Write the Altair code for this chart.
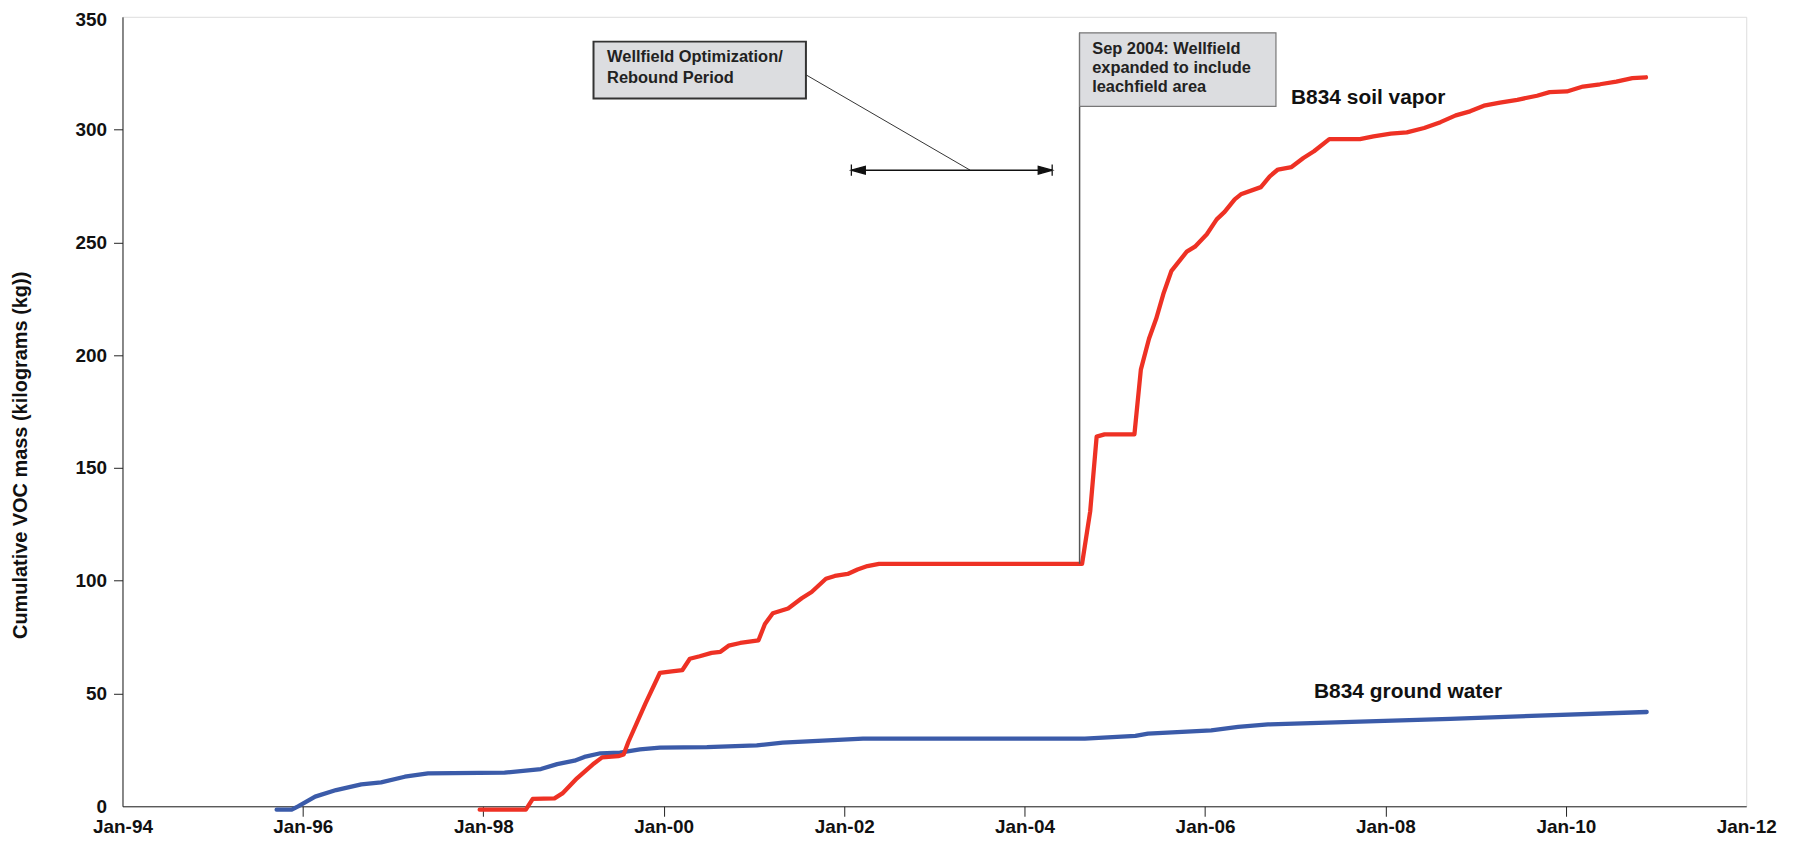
import altair as alt
import pandas as pd

# ---------------- data ----------------
gw_dates = ["1995-09-17", "1995-11-17", "1995-12-13", "1996-02-20", "1996-05-15",
            "1996-08-25", "1996-11-13", "1997-02-17", "1997-05-22", "1998-03-28",
            "1998-08-22", "1998-10-27", "1999-01-05", "1999-02-14", "1999-04-20",
            "1999-07-08", "1999-09-27", "1999-12-17", "2000-06-24", "2001-01-12",
            "2001-04-27", "2002-03-18", "2004-09-01", "2005-03-25", "2005-05-15",
            "2006-01-26", "2006-05-15", "2006-09-13", "2006-12-28", "2008-09-20",
            "2010-11-24"]
gw_values = [-1.5, -1.5, 0.0, 4.3, 7.2,
             9.7, 10.6, 13.1, 14.6, 14.9,
             16.5, 18.7, 20.2, 21.9, 23.5,
             23.8, 25.2, 26.0, 26.2, 27.0,
             28.2, 30.0, 30.0, 31.2, 32.2,
             33.7, 35.2, 36.3, 36.6, 38.8,
             41.8]

sv_dates = ["1997-12-17", "1998-06-22", "1998-07-20", "1998-10-16", "1998-11-17",
            "1999-01-15", "1999-03-25", "1999-04-27", "1999-07-01", "1999-07-23",
            "1999-08-11", "1999-10-19", "1999-12-17", "2000-02-03", "2000-03-17",
            "2000-04-16", "2000-05-26", "2000-07-13", "2000-08-18", "2000-09-20",
            "2000-11-06", "2001-01-19", "2001-02-14", "2001-03-18", "2001-05-19",
            "2001-07-13", "2001-08-22", "2001-10-19", "2001-11-24", "2002-01-15",
            "2002-02-24", "2002-04-05", "2002-05-22", "2004-08-21", "2004-09-23",
            "2004-10-19", "2004-11-20", "2005-03-21", "2005-04-16", "2005-05-19",
            "2005-06-17", "2005-07-16", "2005-08-18", "2005-10-19", "2005-11-21",
            "2006-01-08", "2006-02-17", "2006-03-21", "2006-05-01", "2006-05-26",
            "2006-08-15", "2006-09-20", "2006-10-23", "2006-12-17", "2007-02-03",
            "2007-03-18", "2007-05-19", "2007-09-20", "2007-11-14", "2008-01-23",
            "2008-03-28", "2008-06-06", "2008-08-11", "2008-10-12", "2008-12-09",
            "2009-02-03", "2009-04-09", "2009-06-18", "2009-09-06", "2009-10-27",
            "2010-01-05", "2010-03-11", "2010-05-19", "2010-07-24", "2010-09-27",
            "2010-11-21"]
sv_values = [-1.5, -1.5, 3.3, 3.5, 5.7,
             12.4, 19.0, 21.7, 22.2, 23.0,
             28.5, 45.5, 59.2, 59.8, 60.4,
             65.4, 66.5, 68.0, 68.5, 71.2,
             72.4, 73.6, 80.8, 85.6, 87.7,
             92.2, 95.0, 100.9, 102.1, 103.0,
             105.0, 106.5, 107.5, 107.5, 130.8,
             163.9, 164.9, 164.9, 193.6, 207.3,
             216.1, 227.1, 237.4, 245.9, 248.1,
             253.6, 260.2, 263.5, 269.1, 271.3,
             274.5, 279.3, 282.3, 283.4, 287.4,
             290.4, 295.8, 295.8, 297.0, 298.2,
             298.8, 300.7, 303.3, 306.3, 308.1,
             310.6, 312.0, 313.2, 315.0, 316.6,
             316.9, 319.1, 320.1, 321.3, 322.8,
             323.2]

series_names = ["B834 ground water", "B834 soil vapor"]
series_colors = ["#3b5ba9", "#ee3124"]

tick_years = [1994, 1996, 1998, 2000, 2002, 2004, 2006, 2008, 2010, 2012]
y_ticks = [0, 50, 100, 150, 200, 250, 300, 350]

# annotation content and anchor positions (data coordinates)
box_x = ["1999-03-23", "2004-08-11"]
box_x2 = ["2001-07-30", "2006-10-15"]
box_y = [339.0, 342.9]
box_y2 = [313.8, 310.3]
box_stroke = ["#333333", "#777777"]
box_sw = [2.0, 1.2]

note_lines = ["Wellfield Optimization/", "Rebound Period",
              "Sep 2004: Wellfield", "expanded to include", "leachfield area"]
note_x = ["1999-05-17", "1999-05-17", "2004-10-01", "2004-10-01", "2004-10-01"]
note_y = [329.8, 320.6, 333.5, 325.0, 316.5]

series_label_text = ["B834 soil vapor", "B834 ground water"]
series_label_x = ["2006-12-15", "2007-03-18"]
series_label_y = [311.2, 48.1]

vline_x = ["2004-08-11"]
vline_top = [342.9]
vline_bottom = [107.5]

leader_x = ["2001-07-30"]
leader_x2 = ["2003-05-26"]
leader_y = [324.3]
leader_y2 = [282.0]

arrow_x = ["2002-01-30"]
arrow_x2 = ["2004-04-22"]
arrow_y = [282.0]
arrow_heads = ["M 0 -0.8 L 0 0.8 M 0 0 L 2 -0.55 L 2 0.55 Z",
               "M 0 -0.8 L 0 0.8 M 0 0 L -2 -0.55 L -2 0.55 Z"]

# ---------------- tables ----------------
df = pd.DataFrame({
    "date": gw_dates + sv_dates,
    "value": gw_values + sv_values,
    "series": [series_names[0]] * len(gw_dates) + [series_names[1]] * len(sv_dates),
})
boxes = pd.DataFrame({"x": box_x, "x2": box_x2, "y": box_y, "y2": box_y2,
                      "stroke": box_stroke, "sw": box_sw})
notes = pd.DataFrame({"x": note_x, "y": note_y, "t": note_lines})
slabels = pd.DataFrame({"x": series_label_x, "y": series_label_y, "t": series_label_text})
vline = pd.DataFrame({"x": vline_x, "y": vline_top, "y2": vline_bottom})
leader = pd.DataFrame({"x": leader_x, "x2": leader_x2, "y": leader_y, "y2": leader_y2})
arrow = pd.DataFrame({"x": arrow_x, "x2": arrow_x2, "y": arrow_y})
heads = pd.DataFrame({"x": arrow_x + arrow_x2, "y": arrow_y * 2, "shape": arrow_heads})

FONT = "Liberation Sans"

x_scale = alt.Scale(domain=[alt.DateTime(year=tick_years[0], month=1, date=1),
                            alt.DateTime(year=tick_years[-1], month=1, date=1)])
y_scale = alt.Scale(domain=[y_ticks[0], y_ticks[-1]], nice=False)

x_axis = alt.Axis(
    values=[alt.DateTime(year=y, month=1, date=1) for y in tick_years],
    format="%b-%y", title=None, grid=False,
    labelFont=FONT, labelFontWeight="bold", labelFontSize=19, labelColor="#111",
    domainColor="#222", tickColor="#222", tickSize=10, labelPadding=1,
    labelFlush=False, labelOverlap=False,
    tickOpacity=alt.condition("year(datum.value) == 1994 || year(datum.value) == 2012",
                              alt.value(0), alt.value(1)),
)
y_axis = alt.Axis(
    values=y_ticks, title="Cumulative VOC mass (kilograms (kg))", grid=False,
    labelFont=FONT, labelFontWeight="bold", labelFontSize=19, labelColor="#111",
    domainColor="#222", tickColor="#222", tickSize=9, labelPadding=7,
    labelFlush=False, labelOverlap=False,
    labelOffset=alt.condition("datum.value == 350", alt.value(3), alt.value(0)),
    titleFont=FONT, titleFontWeight="bold", titleFontSize=20, titleColor="#111",
    titleAngle=270, titleX=-102, titleY=440, titleAlign="center", titleBaseline="middle",
    tickOpacity=alt.condition("datum.value == 0 || datum.value == 350",
                              alt.value(0), alt.value(1)),
)

X = lambda f="x": alt.X(f"{f}:T", scale=x_scale, axis=x_axis)
Y = lambda f="y": alt.Y(f"{f}:Q", scale=y_scale, axis=y_axis)

lines = alt.Chart(df).mark_line(strokeWidth=4.3, strokeCap="round", strokeJoin="round").encode(
    x=alt.X("date:T", scale=x_scale, axis=x_axis),
    y=alt.Y("value:Q", scale=y_scale, axis=y_axis),
    color=alt.Color("series:N", scale=alt.Scale(domain=series_names, range=series_colors),
                    legend=None),
    order=alt.Order("date:T"),
)

vrule = alt.Chart(vline).mark_rule(color="#555", strokeWidth=1.5).encode(
    x=X(), y=Y(), y2="y2:Q")

box_marks = alt.Chart(boxes).mark_rect(fill="#dcdde0").encode(
    x=X(), x2="x2:T", y=Y(), y2="y2:Q",
    stroke=alt.Stroke("stroke:N", scale=None),
    strokeWidth=alt.StrokeWidth("sw:Q", scale=None),
)

note_marks = alt.Chart(notes).mark_text(
    align="left", baseline="alphabetic", font=FONT, fontWeight="bold",
    fontSize=16.5, color="#222").encode(x=X(), y=Y(), text="t:N")

leader_mark = alt.Chart(leader).mark_rule(color="#333", strokeWidth=1).encode(
    x=X(), x2="x2:T", y=Y(), y2="y2:Q")

arrow_mark = alt.Chart(arrow).mark_rule(color="#111", strokeWidth=1.5).encode(
    x=X(), x2="x2:T", y=Y())

head_marks = alt.Chart(heads).mark_point(
    filled=True, fill="#111", stroke="#111", strokeWidth=1.3, opacity=1, size=196).encode(
    x=X(), y=Y(), shape=alt.Shape("shape:N", scale=None))

slabel_marks = alt.Chart(slabels).mark_text(
    align="left", baseline="alphabetic", font=FONT, fontWeight="bold",
    fontSize=21, color="#111").encode(x=X(), y=Y(), text="t:N")

chart = alt.layer(
    lines, vrule, box_marks, note_marks, leader_mark, arrow_mark, head_marks, slabel_marks
).properties(
    width=1631, height=793,
    autosize=alt.AutoSizeParams(type="none"),
    padding={"left": 115, "top": 7, "right": 53, "bottom": 30},
).configure_view(
    stroke="#222", strokeWidth=1
).configure(background="white")

chart.save("out.html", embed_options={"renderer": "svg", "actions": False})
